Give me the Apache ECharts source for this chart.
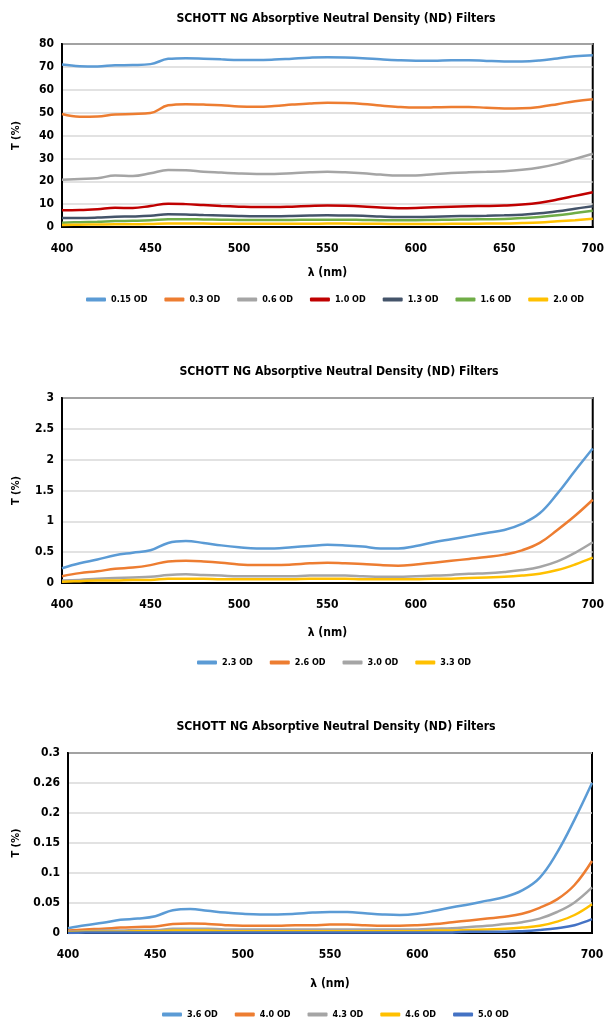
<!DOCTYPE html>
<html>
<head>
<meta charset="utf-8">
<script src="https://cdn.jsdelivr.net/npm/echarts@6/dist/echarts.min.js"></script>
<style>
html,body{margin:0;padding:0;background:#fff;}
#c{width:607px;height:1021px;}
</style>
</head>
<body>
<div id="c"></div>
<script>
// Wavelengths (nm)
const wavelengths = [400,410,420,430,440,450,460,470,480,490,500,510,520,530,540,550,560,570,580,590,600,610,620,630,640,650,660,670,680,690,700];

// Chart 1 series (T %)
const od015 = [71.0,70.3,70.2,70.7,70.8,71.2,73.5,73.8,73.6,73.3,73.0,73.0,73.2,73.6,74.0,74.2,74.1,73.8,73.3,72.9,72.7,72.7,72.9,72.9,72.6,72.4,72.4,72.8,73.7,74.6,75.1];
const od03  = [49.4,48.2,48.3,49.2,49.4,49.8,53.2,53.7,53.5,53.2,52.7,52.6,52.9,53.5,54.0,54.3,54.2,53.8,53.1,52.5,52.2,52.3,52.5,52.5,52.1,51.8,51.9,52.5,53.7,55.0,55.8];
const od06  = [20.7,21.0,21.3,22.5,22.3,23.5,24.9,24.8,24.2,23.8,23.4,23.2,23.2,23.5,23.9,24.1,23.9,23.5,22.9,22.5,22.5,23.1,23.6,23.9,24.1,24.4,25.0,26.0,27.6,29.8,32.0];
const od10  = [7.3,7.4,7.8,8.4,8.3,9.2,10.2,10.0,9.6,9.2,8.9,8.7,8.7,8.9,9.2,9.4,9.3,9.0,8.5,8.2,8.3,8.6,8.9,9.1,9.2,9.4,9.8,10.6,12.0,13.6,15.2];
const od13  = [3.9,3.9,4.1,4.5,4.6,4.9,5.6,5.5,5.2,5.0,4.8,4.7,4.7,4.8,5.0,5.1,5.0,4.9,4.6,4.4,4.4,4.5,4.7,4.8,4.9,5.1,5.4,6.0,6.9,8.0,9.1];
const od16  = [1.9,2.1,2.3,2.6,2.7,2.9,3.4,3.4,3.3,3.2,3.1,3.1,3.1,3.1,3.2,3.2,3.2,3.1,3.0,3.0,3.0,3.1,3.2,3.3,3.4,3.5,3.9,4.4,5.1,6.1,7.1];
const od20  = [0.9,1.0,1.1,1.2,1.2,1.3,1.5,1.5,1.5,1.4,1.4,1.4,1.4,1.4,1.4,1.5,1.5,1.4,1.4,1.3,1.3,1.3,1.4,1.4,1.5,1.5,1.7,2.0,2.5,3.0,3.6];

// Chart 2 series
const od23 = [0.24,0.32,0.38,0.45,0.49,0.53,0.65,0.68,0.65,0.61,0.58,0.56,0.56,0.58,0.60,0.62,0.61,0.59,0.56,0.56,0.60,0.66,0.71,0.76,0.81,0.86,0.96,1.13,1.45,1.82,2.18];
const od26 = [0.11,0.16,0.19,0.23,0.25,0.29,0.35,0.36,0.35,0.33,0.30,0.29,0.29,0.30,0.32,0.33,0.32,0.31,0.29,0.28,0.30,0.33,0.36,0.39,0.42,0.46,0.53,0.65,0.86,1.09,1.35];
const od30 = [0.04,0.05,0.07,0.08,0.09,0.10,0.13,0.14,0.13,0.12,0.11,0.11,0.11,0.11,0.12,0.12,0.12,0.11,0.10,0.10,0.11,0.12,0.13,0.15,0.16,0.18,0.21,0.26,0.35,0.49,0.66];
const od33 = [0.02,0.03,0.04,0.04,0.05,0.05,0.07,0.07,0.07,0.06,0.06,0.06,0.06,0.06,0.07,0.07,0.07,0.06,0.06,0.06,0.06,0.07,0.07,0.08,0.09,0.10,0.12,0.15,0.21,0.30,0.41];

// Chart 3 series
const od36 = [0.008,0.013,0.017,0.022,0.024,0.028,0.038,0.040,0.037,0.034,0.032,0.031,0.031,0.032,0.034,0.035,0.035,0.033,0.031,0.030,0.032,0.037,0.043,0.048,0.054,0.060,0.071,0.092,0.134,0.189,0.250];
const od40 = [0.004,0.006,0.007,0.009,0.010,0.011,0.015,0.016,0.015,0.013,0.012,0.012,0.012,0.013,0.013,0.014,0.014,0.013,0.012,0.012,0.013,0.015,0.018,0.021,0.024,0.027,0.032,0.042,0.056,0.080,0.120];
const od43 = [0.002,0.003,0.004,0.004,0.005,0.005,0.007,0.007,0.007,0.006,0.006,0.006,0.006,0.006,0.006,0.006,0.006,0.006,0.006,0.006,0.006,0.007,0.008,0.010,0.012,0.015,0.018,0.024,0.035,0.051,0.076];
const od46 = [0.001,0.002,0.002,0.002,0.003,0.003,0.004,0.004,0.004,0.003,0.003,0.003,0.003,0.003,0.003,0.003,0.003,0.003,0.003,0.003,0.003,0.004,0.004,0.005,0.006,0.007,0.009,0.012,0.019,0.030,0.048];
const od50 = [0.000,0.001,0.001,0.001,0.001,0.001,0.001,0.001,0.001,0.001,0.001,0.001,0.001,0.001,0.001,0.001,0.001,0.001,0.001,0.001,0.001,0.001,0.001,0.002,0.002,0.002,0.003,0.005,0.008,0.013,0.023];

// Tick labels of chart 3's y axis (as printed)
const yTicks3 = ['0','0.05','0.1','0.15','0.2','0.26','0.3'];

const titleText = 'SCHOTT NG Absorptive Neutral Density (ND) Filters';
const FONT = "'DejaVu Sans Condensed', 'Liberation Sans Narrow', sans-serif";

const chart1 = [['0.15 OD',od015,'#5B9BD5'],['0.3 OD',od03,'#ED7D31'],['0.6 OD',od06,'#A5A5A5'],['1.0 OD',od10,'#C00000'],['1.3 OD',od13,'#44546A'],['1.6 OD',od16,'#70AD47'],['2.0 OD',od20,'#FFC000']];
const chart2 = [['2.3 OD',od23,'#5B9BD5'],['2.6 OD',od26,'#ED7D31'],['3.0 OD',od30,'#A5A5A5'],['3.3 OD',od33,'#FFC000']];
const chart3 = [['3.6 OD',od36,'#5B9BD5'],['4.0 OD',od40,'#ED7D31'],['4.3 OD',od43,'#A5A5A5'],['4.6 OD',od46,'#FFC000'],['5.0 OD',od50,'#4472C4']];

const grids = [
  {left:62, right:7, top:44, height:183},
  {left:62, right:7, top:398, height:185},
  {left:68, right:15, top:753, height:180}
];
const yAx = [
  {max:80, interval:10, fmt: v => String(v), gap:40},
  {max:3, interval:0.5, fmt: v => String(+v.toFixed(2)), gap:40},
  {max:0.3, interval:0.05, fmt: v => yTicks3[Math.round(v/0.05)], gap:46}
];
const xGap = [40, 44, 45];
const titlesTop = [8, 361, 716];
const legendTop = [295, 658, 1010];
const legendLeft = [86, 197, 162];
const groups = [chart1, chart2, chart3];

const textStyle = {fontFamily: FONT, fontWeight:'bold', color:'#000'};

const option = {
  animation:false,
  backgroundColor:'#fff',
  title: titlesTop.map((t,i) => ({
    text:titleText, left:(i===1?334:331), top:t, textAlign:'center',
    textStyle:{fontFamily:FONT, fontWeight:'bold', fontSize:12.2, color:'#000'}
  })),
  grid: grids.map(g => Object.assign({show:true, borderColor:'#000', borderWidth:2, backgroundColor:'transparent'}, g)),
  xAxis: grids.map((g,i) => ({
    type:'value', gridIndex:i, min:400, max:700, interval:50,
    name:'λ (nm)', nameLocation:'middle', nameGap:xGap[i],
    nameTextStyle:Object.assign({fontSize:12}, textStyle),
    axisLine:{show:true, lineStyle:{color:'#000', width:2}},
    axisTick:{show:false}, splitLine:{show:false},
    axisLabel:Object.assign({fontSize:12, margin:16}, textStyle)
  })),
  yAxis: yAx.map((a,i) => ({
    type:'value', gridIndex:i, min:0, max:a.max, interval:a.interval,
    name:'T (%)', nameLocation:'middle', nameGap:a.gap, nameRotate:90,
    nameTextStyle:Object.assign({fontSize:11}, textStyle),
    axisLine:{show:true, lineStyle:{color:'#000', width:2}},
    axisTick:{show:false},
    splitLine:{show:true, lineStyle:{color:'#D9D9D9', width:1.5}},
    axisLabel:Object.assign({fontSize:12, margin:8, formatter:a.fmt}, textStyle)
  })),
  legend: groups.map((g,i) => ({
    top:legendTop[i], left:legendLeft[i], itemWidth:20, itemHeight:4, itemGap:17,
    padding:0,
    icon:'roundRect',
    data:g.map(s => s[0]),
    textStyle:Object.assign({fontSize:9}, textStyle)
  })),
  series: []
};

groups.forEach((g,i) => {
  g.forEach(s => {
    option.series.push({
      type:'line', name:s[0], xAxisIndex:i, yAxisIndex:i,
      data: wavelengths.map((w,k) => [w, s[1][k]]),
      smooth:0.4, showSymbol:false, symbol:'none',
      lineStyle:{color:s[2], width:2.5}, itemStyle:{color:s[2]}
    });
  });
});

const chart = echarts.init(document.getElementById('c'));
chart.setOption(option);
</script>
</body>
</html>
